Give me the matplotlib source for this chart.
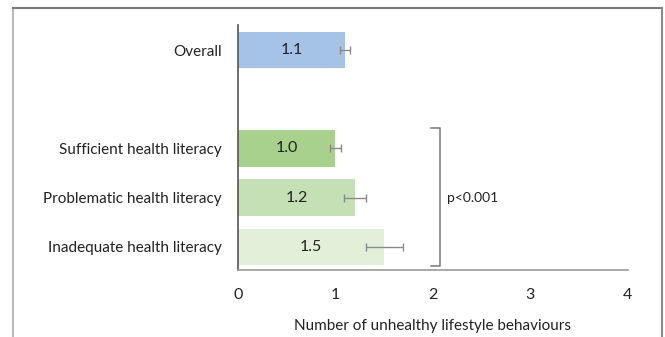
import matplotlib.pyplot as plt
from matplotlib.lines import Line2D

plt.rcParams['font.family'] = ['Lato', 'DejaVu Sans']

# data
groups = ['Overall', 'Sufficient health literacy', 'Problematic health literacy',
          'Inadequate health literacy']
means = [1.1, 1.0, 1.2, 1.5]
errs = [0.05, 0.06, 0.11, 0.19]
bar_colors = ['#a4c3e6', '#a9d18e', '#c5e0b4', '#e2efd9']
pval_text = 'p<0.001'

# Overall on top, empty slot, then the three literacy groups
ypos = [0, 2, 3, 4]

fig = plt.figure(figsize=(6.65, 3.37), dpi=100)
ax = fig.add_axes([0.358, 0.199, 0.586, 0.727])

ax.barh(ypos, means, height=0.74, color=bar_colors, zorder=2)
ax.errorbar(means, ypos, xerr=errs, fmt='none', ecolor='#8a8a8a',
            elinewidth=1, capsize=3, capthick=1, zorder=3)
for y, m in zip(ypos, means):
    ax.text(m / 2, y, f'{m:.1f}', ha='center', va='center', fontsize=11.5,
            color='#222222', zorder=4)

ax.set_xlim(0, 4)
ax.set_ylim(4.47, -0.51)
ax.set_xticks([0, 1, 2, 3, 4])
ax.set_yticks(ypos)
ax.set_yticklabels(groups)
ax.tick_params(axis='both', length=0, labelsize=11, colors='#222222')
ax.tick_params(axis='x', pad=13, labelsize=11.5)
ax.tick_params(axis='y', pad=12)
ax.set_xlabel('Number of unhealthy lifestyle behaviours', fontsize=11,
              color='#222222', labelpad=12)

for s in ['top', 'right']:
    ax.spines[s].set_visible(False)
ax.spines['left'].set_color('#555555')
ax.spines['left'].set_linewidth(1.2)
ax.spines['bottom'].set_color('#999999')
ax.spines['bottom'].set_linewidth(1.2)

# bracket for the literacy groups
bx, tick = 2.07, 0.09
ax.plot([bx - tick, bx, bx, bx - tick], [1.58, 1.58, 4.4, 4.4],
        color='#777777', lw=1.1, clip_on=False, zorder=3)
ax.text(bx + 0.07, 3.0, pval_text, ha='left', va='center', fontsize=10,
        color='#222222')

# outer frame, open at the bottom
frame_kw = dict(transform=fig.transFigure, lw=1.5)
fig.add_artist(Line2D([0.02, 0.02], [0.0, 0.975], color='#bbbbbb', **frame_kw))
fig.add_artist(Line2D([0.02, 0.996], [0.975, 0.975], color='#7a7a7a', **frame_kw))
fig.add_artist(Line2D([0.996, 0.996], [0.975, 0.0], color='#8a8a8a', **frame_kw))

fig.savefig('out.png', dpi=100)
